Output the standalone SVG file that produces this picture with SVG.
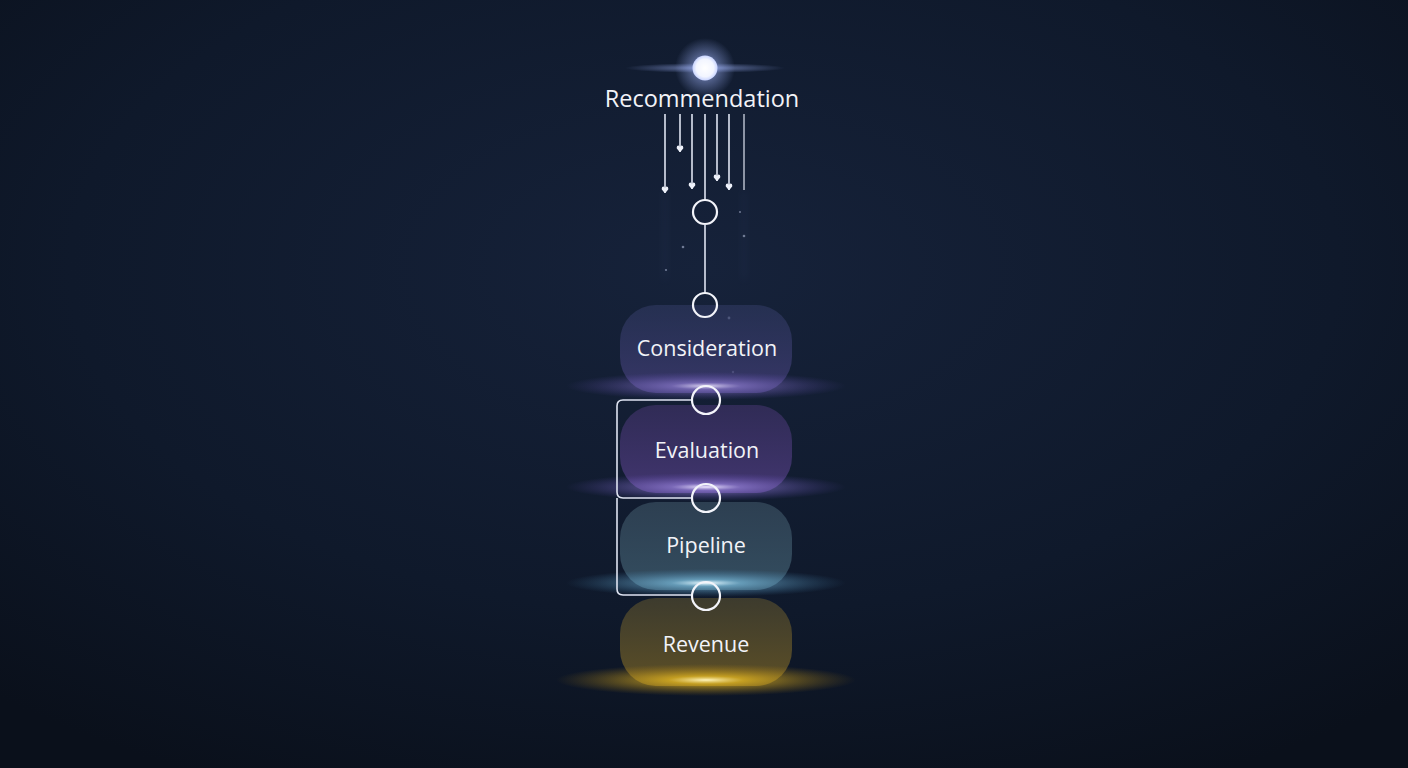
<svg xmlns="http://www.w3.org/2000/svg" width="1408" height="768" viewBox="0 0 1408 768">
  <defs>
    <radialGradient id="bg" cx="50%" cy="35%" r="75%">
      <stop offset="0" stop-color="#16223a"/>
      <stop offset="0.6" stop-color="#0f192b"/>
      <stop offset="1" stop-color="#0a101b"/>
    </radialGradient>
    <radialGradient id="orb" cx="50%" cy="50%" r="50%">
      <stop offset="0" stop-color="#ffffff"/>
      <stop offset="0.7" stop-color="#f2f5ff"/>
      <stop offset="1" stop-color="#c9d4ff"/>
    </radialGradient>
    <radialGradient id="halo" cx="50%" cy="50%" r="50%">
      <stop offset="0" stop-color="#a9bcff" stop-opacity="0.75"/>
      <stop offset="1" stop-color="#9fb4ff" stop-opacity="0"/>
    </radialGradient>
    <radialGradient id="gPurple" cx="50%" cy="50%" r="50%">
      <stop offset="0" stop-color="#f0eaff" stop-opacity="1"/>
      <stop offset="0.25" stop-color="#a08ae8" stop-opacity="0.6"/>
      <stop offset="1" stop-color="#6a50c0" stop-opacity="0"/>
    </radialGradient>
    <radialGradient id="gCyan" cx="50%" cy="50%" r="50%">
      <stop offset="0" stop-color="#f0fcff" stop-opacity="1"/>
      <stop offset="0.25" stop-color="#86cff2" stop-opacity="0.6"/>
      <stop offset="1" stop-color="#4a90c0" stop-opacity="0"/>
    </radialGradient>
    <radialGradient id="gGold" cx="50%" cy="50%" r="50%">
      <stop offset="0" stop-color="#fff6c0" stop-opacity="1"/>
      <stop offset="0.25" stop-color="#f0c020" stop-opacity="0.7"/>
      <stop offset="1" stop-color="#b08010" stop-opacity="0"/>
    </radialGradient>
    <linearGradient id="fCons" x1="0" y1="0" x2="0" y2="1">
      <stop offset="0" stop-color="#333c66" stop-opacity="0.55"/>
      <stop offset="1" stop-color="#403c74" stop-opacity="0.8"/>
    </linearGradient>
    <linearGradient id="fEval" x1="0" y1="0" x2="0" y2="1">
      <stop offset="0" stop-color="#3a3062" stop-opacity="0.75"/>
      <stop offset="1" stop-color="#4a3a7a" stop-opacity="0.85"/>
    </linearGradient>
    <linearGradient id="fPipe" x1="0" y1="0" x2="0" y2="1">
      <stop offset="0" stop-color="#34485a" stop-opacity="0.8"/>
      <stop offset="1" stop-color="#3a5668" stop-opacity="0.85"/>
    </linearGradient>
    <linearGradient id="fRev" x1="0" y1="0" x2="0" y2="1">
      <stop offset="0" stop-color="#45412e" stop-opacity="0.85"/>
      <stop offset="1" stop-color="#665626" stop-opacity="0.9"/>
    </linearGradient>
    <filter id="blur" x="-50%" y="-50%" width="200%" height="200%">
      <feGaussianBlur stdDeviation="4"/>
    </filter>
    <marker id="heart" viewBox="0 0 10 10" refX="9.5" refY="5" markerWidth="8" markerHeight="8" orient="auto" markerUnits="userSpaceOnUse">
      <path d="M10 5 L5 1 Q1.5 0.5 1.5 3 Q1.5 4.3 3.5 5 Q1.5 5.7 1.5 7 Q1.5 9.5 5 9 Z" fill="#eef1fa"/>
    </marker>
    <style>
      .t { font-family: "Open Sans", "Noto Sans", "Liberation Sans", sans-serif; fill: #f2f3f8; text-anchor: middle; }
      .ln { stroke: #dfe4f2; stroke-width: 1.6; fill: none; }
      .ring { fill: none; stroke: #f3f4fa; stroke-width: 2.2; }
      .box { stroke: none; }
    </style>
  </defs>

  <rect width="1408" height="768" fill="url(#bg)"/>

  <!-- faint light streaks and particles -->
  <g opacity="0.5">
    <rect x="662" y="190" width="6" height="90" fill="#5b6d9a" opacity="0.15" filter="url(#blur)"/>
    <rect x="741" y="190" width="6" height="90" fill="#5b6d9a" opacity="0.15" filter="url(#blur)"/>
    <circle cx="683" cy="247" r="1.3" fill="#c8d2f0"/>
    <circle cx="744" cy="236" r="1.3" fill="#c8d2f0"/>
    <circle cx="666" cy="270" r="1.1" fill="#c8d2f0"/>
    <circle cx="729" cy="318" r="1.4" fill="#c8d2f0"/>
    <circle cx="740" cy="212" r="1" fill="#c8d2f0"/>
    <circle cx="733" cy="372" r="1.2" fill="#c8d2f0"/>
  </g>

  <!-- top orb -->
  <g id="orb-node">
    <ellipse cx="705" cy="68" rx="80" ry="5" fill="url(#halo)" opacity="0.8"/>
    <circle cx="705" cy="68" r="30" fill="url(#halo)"/>
    <circle cx="705" cy="68" r="12.5" fill="url(#orb)"/>
  </g>

  <g id="recommendation">
    <text class="t" x="702" y="107" font-size="23.5">Recommendation</text>
  </g>

  <!-- nodes -->
  <g id="consideration">
    <rect class="box" x="620" y="305" width="172" height="88" rx="36" fill="url(#fCons)"/>
    <ellipse cx="706" cy="386" rx="140" ry="14" fill="url(#gPurple)" opacity="0.9"/>
    <text class="t" x="707" y="356" font-size="21.5">Consideration</text>
  </g>

  <g id="evaluation">
    <rect class="box" x="620" y="405" width="172" height="88" rx="36" fill="url(#fEval)"/>
    <ellipse cx="706" cy="487" rx="140" ry="14" fill="url(#gPurple)"/>
    <text class="t" x="707" y="458" font-size="21.5">Evaluation</text>
  </g>

  <g id="pipeline">
    <rect class="box" x="620" y="502" width="172" height="88" rx="36" fill="url(#fPipe)"/>
    <ellipse cx="706" cy="583" rx="140" ry="14" fill="url(#gCyan)"/>
    <text class="t" x="706" y="553" font-size="21.5">Pipeline</text>
  </g>

  <g id="revenue">
    <rect class="box" x="620" y="598" width="172" height="88" rx="36" fill="url(#fRev)"/>
    <ellipse cx="706" cy="680" rx="150" ry="16" fill="url(#gGold)"/>
    <text class="t" x="706" y="652" font-size="21.5">Revenue</text>
  </g>

  <!-- connectors -->
  <g id="connectors">
    <line class="ln" x1="665" y1="114" x2="665" y2="193" marker-end="url(#heart)"/>
    <line class="ln" x1="680" y1="114" x2="680" y2="152" marker-end="url(#heart)"/>
    <line class="ln" x1="692" y1="114" x2="692" y2="189" marker-end="url(#heart)"/>
    <line class="ln" x1="717" y1="114" x2="717" y2="181" marker-end="url(#heart)"/>
    <line class="ln" x1="729" y1="114" x2="729" y2="190" marker-end="url(#heart)"/>
    <line class="ln" x1="744" y1="114" x2="744" y2="190" opacity="0.75"/>
    <line class="ln" x1="705" y1="114" x2="705" y2="200"/>
    <circle class="ring" cx="705" cy="212" r="12"/>
    <line class="ln" x1="705" y1="224" x2="705" y2="293"/>
    <circle class="ring" cx="705" cy="305" r="12"/>
    <path class="ln" d="M692 400 H623 Q617 400 617 406 V492 Q617 498 623 498 H692" stroke-width="2"/>
    <path class="ln" d="M617 498 V589 Q617 595 623 595 H692" stroke-width="2" stroke="#e9e6d8"/>
    <circle class="ring" cx="706" cy="400" r="14"/>
    <circle class="ring" cx="706" cy="498" r="14"/>
    <circle class="ring" cx="706" cy="596" r="14" stroke="#e6dcae"/>
  </g>
</svg>
